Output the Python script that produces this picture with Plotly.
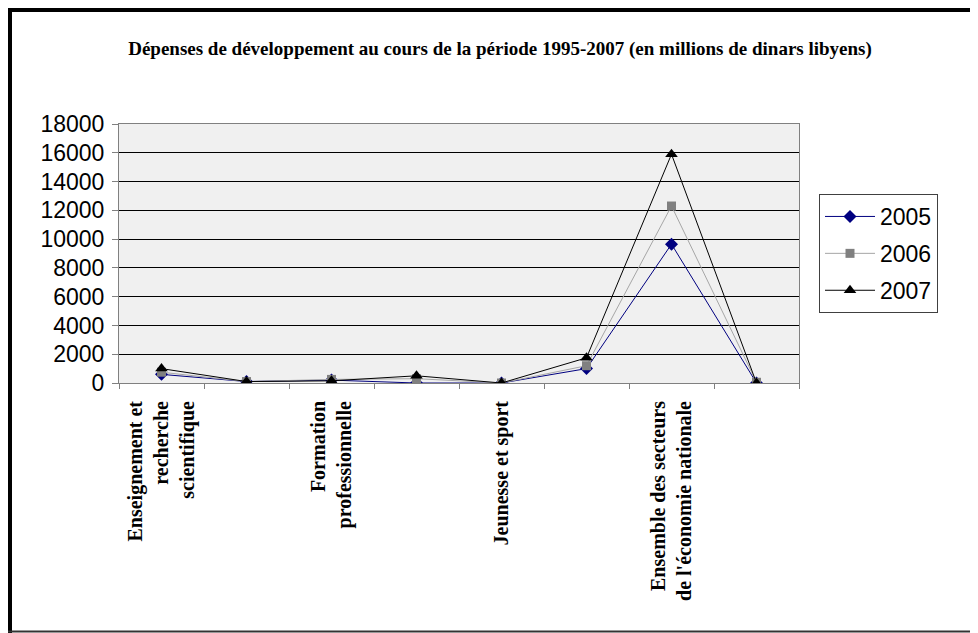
import plotly.graph_objects as go

categories = [
    "Enseignement et<br>recherche<br>scientifique",
    "",
    "Formation<br>professionnelle",
    "",
    "Jeunesse et sport",
    "",
    "Ensemble des secteurs<br>de l'économie nationale",
    "",
]
years = ["2005", "2006", "2007"]
values_2005 = [600, 100, 200, 0, 0, 1000, 9650, 0]
values_2006 = [750, 100, 250, 300, 0, 1200, 12300, 50]
values_2007 = [1000, 100, 150, 500, 0, 1750, 15900, 0]
y_ticks = [0, 2000, 4000, 6000, 8000, 10000, 12000, 14000, 16000, 18000]

title = "Dépenses de développement au cours de la période 1995-2007 (en millions de dinars libyens)"

x_pos = list(range(1, len(categories) + 1))
label_pos = [x for x, c in zip(x_pos, categories) if c]
label_txt = ["<b>" + c + "</b>" for c in categories if c]

styles = {
    "2005": dict(line=dict(color="#000080", width=1), marker=dict(symbol="diamond", size=10, color="#000080")),
    "2006": dict(line=dict(color="#a6a6a6", width=1), marker=dict(symbol="square", size=9, color="#808080")),
    "2007": dict(line=dict(color="#000000", width=1), marker=dict(symbol="triangle-up", size=11, color="#000000")),
}

fig = go.Figure()
for yr, vals in zip(years, [values_2005, values_2006, values_2007]):
    fig.add_trace(go.Scatter(x=x_pos, y=vals, mode="lines+markers", name=yr,
                             legendgroup=yr, **styles[yr]))

OFF = 8  # page body margin
W, H = 978 - OFF, 633 - OFF
L, R, T, B = 119 - OFF, 978 - 799, 124 - OFF, 633 - 383
pw, ph = W - L - R, H - T - B

def px(xs):
    return (xs - OFF - L) / pw

def py(ys):
    return (H - B - (ys - OFF)) / ph

shapes = [
    dict(type="rect", xref="paper", yref="paper", x0=px(8), x1=px(978), y0=py(12), y1=py(8),
         fillcolor="black", line=dict(width=0), layer="above"),
    dict(type="rect", xref="paper", yref="paper", x0=px(8), x1=px(12), y0=py(640), y1=py(8),
         fillcolor="black", line=dict(width=0), layer="above"),
    dict(type="line", xref="paper", yref="paper", x0=px(8), x1=px(978), y0=py(631.5), y1=py(631.5),
         line=dict(color="#333333", width=2), layer="above"),
]

fig.update_layout(
    width=W, height=H,
    margin=dict(l=L, r=R, t=T, b=B, autoexpand=False),
    paper_bgcolor="white",
    plot_bgcolor="#f0f0f0",
    title=dict(text="<b>" + title + "</b>", xref="container", x=(500 - OFF) / W, xanchor="center",
               yref="container", y=1 - (48 - OFF) / H, yanchor="middle",
               font=dict(family="Liberation Serif", size=19, color="black")),
    showlegend=True,
    legend=dict(x=px(819), y=py(194), xanchor="left", yanchor="top",
                bordercolor="#404040", borderwidth=1, bgcolor="white",
                font=dict(family="Liberation Sans", size=23, color="black"),
                traceorder="grouped", tracegroupgap=4, itemwidth=50),
    shapes=shapes,
    xaxis=dict(
        range=[0.5, len(categories) + 0.5],
        tickmode="array", tickvals=label_pos, ticktext=label_txt,
        ticks="", tickangle=-90, ticklabelstandoff=9,
        tickfont=dict(family="Liberation Serif", size=20, color="black"),
        showgrid=False, zeroline=False,
        showline=True, linecolor="#808080", linewidth=1, mirror=True,
        minor=dict(tickmode="array", tickvals=[x + 0.5 for x in [0] + x_pos], ticks="outside",
                   ticklen=5, tickcolor="#808080", showgrid=False),
    ),
    yaxis=dict(
        range=[0, 18000], tickmode="array", tickvals=y_ticks, ticktext=[str(v) for v in y_ticks],
        ticks="outside", ticklen=6, tickcolor="#808080", ticklabelstandoff=3,
        tickfont=dict(family="Liberation Sans", size=23, color="black"),
        showgrid=True, gridcolor="#000000", gridwidth=1,
        zeroline=False, showline=True, linecolor="#808080", linewidth=1, mirror=True,
    ),
)

fig.write_html("out.html")
